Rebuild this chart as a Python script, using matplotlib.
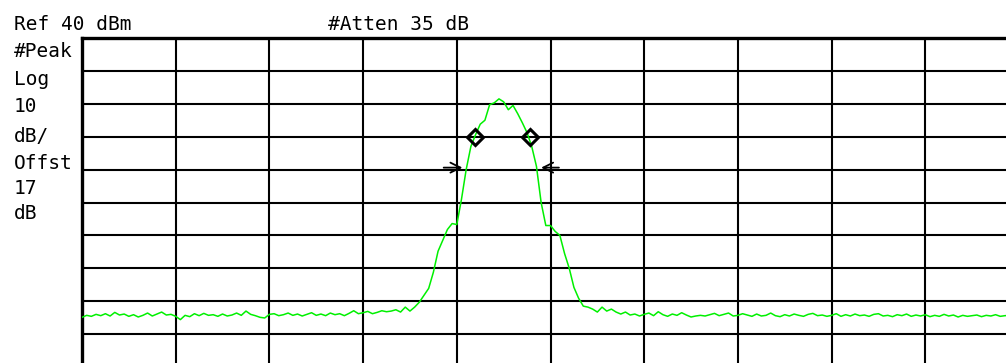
import numpy as np
import matplotlib
matplotlib.use("Agg")
from matplotlib import pyplot as plt

# ---- reglages de l'analyseur ----
ref_level = 40      # dBm, haut de l'ecran
db_per_div = 10
n_div_x = 10
n_div_y = 10

# trace relevee (dBm), 201 points sur les 10 divisions
trace_dbm = [
    # bruit de fond, cote gauche
    -44.9, -44.3, -44.6, -44.0, -44.4, -43.8, -44.5, -43.4, -44.2, -43.9,
    -44.6, -44.1, -44.8, -44.3, -43.6, -44.5, -43.9, -43.3, -44.2, -44.0,
    -44.6, -45.6, -44.3, -44.7, -43.8, -44.4, -43.7, -44.3, -44.1, -44.6,
    -43.9, -44.5, -44.2, -43.6, -44.3, -43.0, -44.0, -44.4, -44.9, -45.1,
    -44.0, -43.8, -44.4, -44.1, -43.6, -44.3, -43.9, -44.5, -44.0, -43.5,
    -44.3, -43.9, -44.4, -43.6, -44.1, -43.8, -44.4, -43.7, -42.9, -43.8,
    -43.5, -43.1, -43.8, -43.4, -42.9, -43.2, -43.0, -42.6,
    # porteuse
    -43.3, -41.8, -43.0, -41.8, -40.3, -38.2, -36.1, -31.2, -24.8, -21.5,
    -18.2, -16.4, -16.7, -9.0, 0.0, 7.0, 10.6, 13.8, 15.0, 19.7,
    20.3, 21.5, 20.6, 18.2, 19.5, 17.0, 14.2, 11.2, 7.0, 1.0,
    -10.0, -17.0, -17.0, -18.8, -20.0, -25.5, -30.0, -35.8, -39.1, -41.5,
    -41.8, -42.4, -43.3, -41.8, -43.0, -42.4, -43.3, -43.9, -43.3, -44.2,
    -43.9, -44.5,
    # bruit de fond, cote droit
    -44.0, -43.6, -44.4, -43.2, -44.1, -44.6, -43.9, -44.3, -43.5, -44.2,
    -44.8, -44.5, -44.3, -44.5, -44.1, -43.7, -44.4, -44.0, -43.6, -44.5,
    -44.3, -43.8, -44.2, -44.6, -43.9, -44.5, -44.3, -43.6, -44.4, -44.7,
    -44.1, -44.5, -43.9, -44.3, -44.6, -44.0, -43.7, -44.4, -44.2, -44.6,
    -44.3, -43.8, -44.6, -44.1, -44.5, -43.9, -44.4, -44.2, -44.6, -44.0,
    -43.8, -44.5, -44.3, -44.7, -44.1, -44.4, -43.9, -44.6, -44.2, -44.5,
    -44.1, -44.7, -44.3, -44.6, -44.0, -44.5, -44.2, -44.8, -44.3, -44.6,
    -44.4, -44.2, -44.7, -44.3, -44.5, -44.1, -44.6, -44.4, -44.3, -44.5,
    -44.4,
]

# marqueurs (losanges) et fleches de la mesure de bande occupee
marker_x = [4.19, 4.78]
marker_dbm = [10.0, 10.0]
arrow_tip_x = [4.06, 4.90]
arrow_tail_x = [3.86, 5.09]
arrow_dbm = 0.6

# textes d'ecran
header_texts = [("Ref 40 dBm", 14, 30), ("#Atten 35 dB", 328, 30)]
side_texts = ["#Peak", "Log", "10", "dB/", "Offst", "17", "dB"]
side_baselines = [57, 85, 112, 142, 169, 194, 219]

W, H = 1006, 363
fig = plt.figure(figsize=(W / 100, H / 100), dpi=100)
fig.patch.set_facecolor("white")

# la grille depasse de l'image a droite et en bas
ax = fig.add_axes([82 / W, (H - 367) / H, 937 / W, 329 / H])
bas = ref_level - n_div_y * db_per_div
ax.set_xlim(0, n_div_x)
ax.set_ylim(bas, ref_level)
ax.set_xticks(np.arange(0, n_div_x + 1))
ax.set_yticks(np.arange(bas, ref_level + 1, db_per_div))
ax.tick_params(length=0, labelbottom=False, labelleft=False)
ax.grid(True, color="black", linewidth=1.5)
ax.set_axisbelow(True)
for cote in ["left", "top", "right", "bottom"]:
    ax.spines[cote].set_linewidth(2.4)
    ax.spines[cote].set_color("black")

x = np.linspace(0, n_div_x, len(trace_dbm))
ax.plot(x, trace_dbm, color="#00f000", linewidth=1.1, zorder=3)

ax.plot(marker_x, marker_dbm, linestyle="none", marker="D", markersize=8,
        markerfacecolor="none", markeredgecolor="black", markeredgewidth=2.2,
        zorder=4)

for tip, tail in zip(arrow_tip_x, arrow_tail_x):
    ax.annotate("", xy=(tip, arrow_dbm), xytext=(tail, arrow_dbm),
                arrowprops=dict(arrowstyle="->", color="black", lw=1.3,
                                shrinkA=0, shrinkB=0, mutation_scale=18),
                zorder=4)

for txt, px, py in header_texts:
    fig.text(px / W, 1 - py / H, txt, family="DejaVu Sans Mono", fontsize=14,
             va="baseline", ha="left", color="black")

for txt, py in zip(side_texts, side_baselines):
    fig.text(14 / W, 1 - py / H, txt, family="DejaVu Sans Mono", fontsize=14,
             va="baseline", ha="left", color="black")

fig.savefig("out.png", dpi=100, facecolor="white")
